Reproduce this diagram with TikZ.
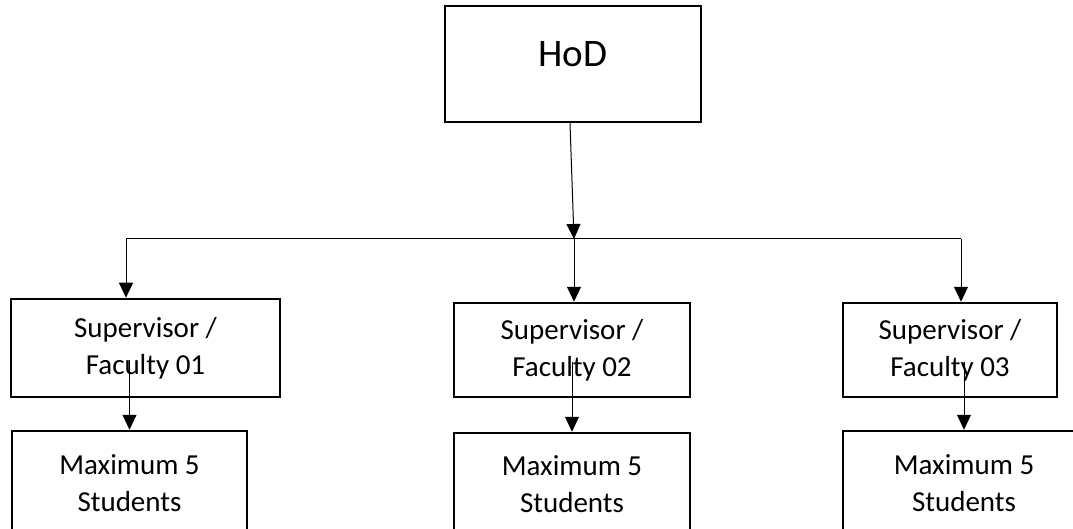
\documentclass[tikz,border=0pt]{standalone}
\usepackage{fontspec}
\setmainfont{Carlito}
\usetikzlibrary{arrows.meta,positioning,calc}

\begin{document}
\begin{tikzpicture}[x=1pt, y=-1pt,
    unit/.style={draw, line width=2.5pt, inner sep=0pt, align=center,
        minimum width=#1, font=\fontsize{29}{37}\selectfont},
    link/.style={line width=1pt, -{Triangle[length=15pt,width=14pt]}},
    bar/.style={line width=1pt}]
    \useasboundingbox (0,0) rectangle (1073,529);
    \clip (0,0) rectangle (1073,529);

    % head of department
    \node [unit=256pt, minimum height=116pt, text height=27pt, text depth=21pt,
        font=\fontsize{39}{46}\selectfont] (hod) at (573,64) {HoD};

    % supervisors
    \node [unit=269pt, minimum height=98pt] (sup1) at (145.5,348) {Supervisor /\\Faculty 01};
    \node [unit=236pt, minimum height=94pt] (sup2) at (572,350) {Supervisor /\\Faculty 02};
    \node [unit=214pt, minimum height=94pt] (sup3) at (950,350) {Supervisor /\\Faculty 03};

    % students
    \node [unit=235pt, minimum height=104pt] (stu1) at (129.5,483) {Maximum 5\\Students};
    \node [unit=236pt, minimum height=102pt] (stu2) at (572,484) {Maximum 5\\Students};
    \node [unit=242pt, minimum height=104pt] (stu3) at (964,483) {Maximum 5\\Students};

    \coordinate (hub) at (574,239);
    \coordinate (barL) at (126,239);
    \coordinate (barR) at (961,239);

    \draw [link] ([xshift=-3pt]hod.south) -- (hub);
    \draw [bar] (barL) -- (barR);

    \draw [link] (barL) -- (barL |- sup1.north);
    \draw [link] (hub) -- (hub |- sup2.north);
    \draw [link] (barR) -- (barR |- sup3.north);

    \draw [link] (sup1.center -| stu1.north) ++(0,12) -- (stu1.north);
    \draw [link] (sup2.center -| stu2.north) ++(0,12) -- (stu2.north);
    \draw [link] (sup3.center -| stu3.north) ++(0,12) -- (stu3.north);
\end{tikzpicture}
\end{document}
